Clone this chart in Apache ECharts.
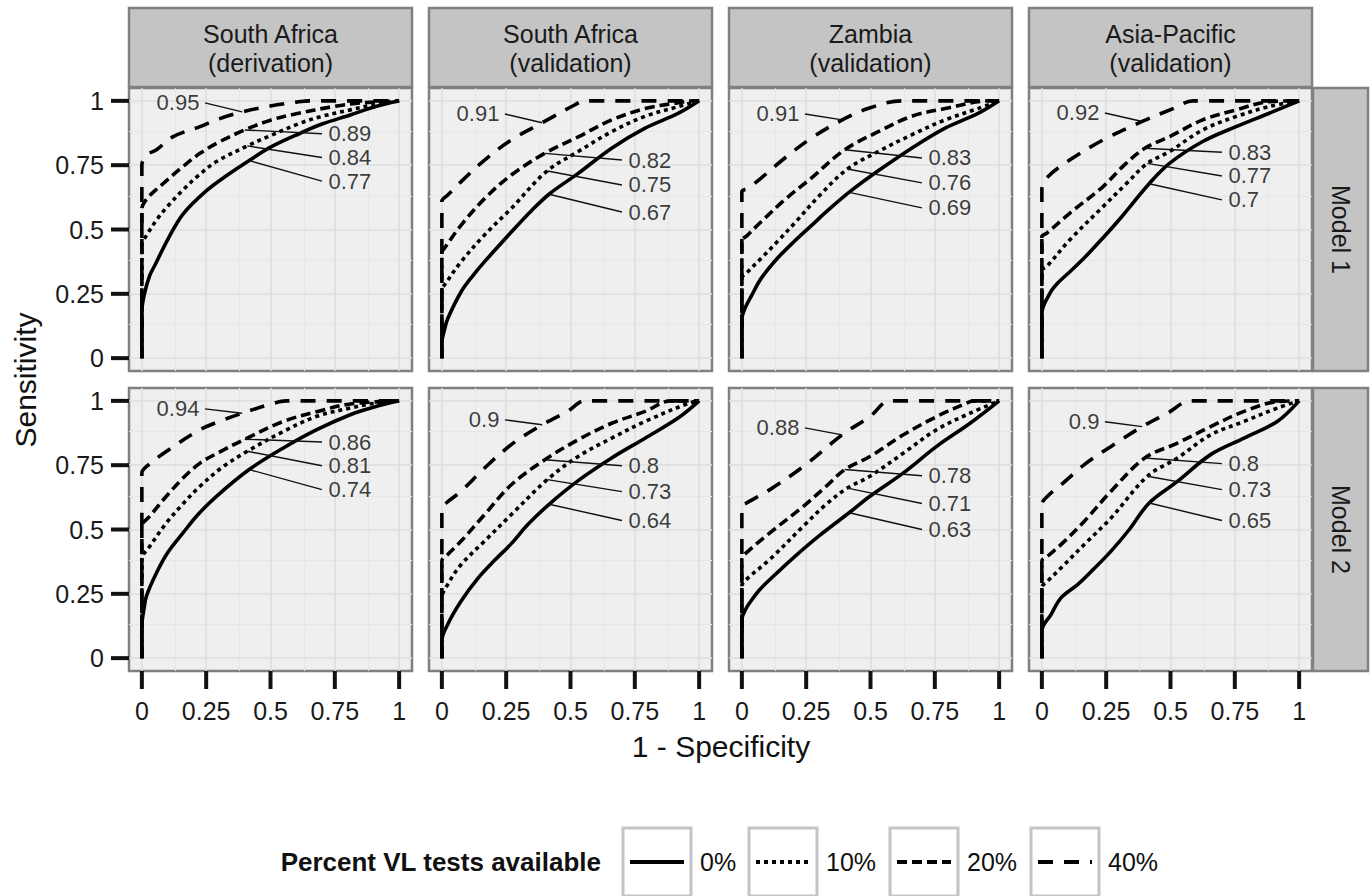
<!DOCTYPE html>
<html><head><meta charset="utf-8">
<script src="https://cdn.jsdelivr.net/npm/echarts@6/dist/echarts.min.js"></script>
<style>html,body{margin:0;padding:0;background:#fff}#c{width:1372px;height:896px}</style>
</head><body><div id="c"></div>
<script>
// ---------- DATA ----------
const regionLabels = ['South Africa\n(derivation)', 'South Africa\n(validation)', 'Zambia\n(validation)', 'Asia-Pacific\n(validation)'];
const modelLabels = ['Model 1', 'Model 2'];
const levels = ['0%', '10%', '20%', '40%'];
const tickValues = [0, 0.25, 0.5, 0.75, 1];
const minorValues = [0.125, 0.375, 0.625, 0.875];
const xTitle = '1 - Specificity';
const yTitle = 'Sensitivity';
const legendTitle = 'Percent VL tests available';

// AUC labels, per region, ordered as levels (0%,10%,20%,40%)
const auc_M1 = [[0.77, 0.84, 0.89, 0.95], [0.67, 0.75, 0.82, 0.91], [0.69, 0.76, 0.83, 0.91], [0.7, 0.77, 0.83, 0.92]];
const auc_M2 = [[0.74, 0.81, 0.86, 0.94], [0.64, 0.73, 0.8, 0.9], [0.63, 0.71, 0.78, 0.88], [0.65, 0.73, 0.8, 0.9]];

// ROC curves [1-specificity, sensitivity]
// Model 1 - South Africa (derivation)
const m1_saDer_0 = [[0,0],[0,0.18],[0.01,0.25],[0.03,0.32],[0.05,0.36],[0.1,0.46],[0.16,0.56],[0.25,0.65],[0.33,0.71],[0.42,0.77],[0.5,0.82],[0.615,0.874],[0.7,0.91],[0.81,0.945],[0.9,0.975],[1,1]];
const m1_saDer_10 = [[0,0],[0,0.44],[0.02,0.48],[0.057,0.537],[0.1,0.59],[0.16,0.654],[0.22,0.71],[0.29,0.764],[0.41,0.825],[0.5,0.865],[0.615,0.913],[0.7,0.94],[0.81,0.965],[0.9,0.985],[1,1]];
const m1_saDer_20 = [[0,0],[0,0.58],[0.02,0.62],[0.05,0.65],[0.096,0.69],[0.16,0.745],[0.226,0.796],[0.3,0.84],[0.4,0.887],[0.5,0.925],[0.6,0.95],[0.745,0.978],[0.85,0.992],[1,1]];
const m1_saDer_40 = [[0,0],[0,0.75],[0.02,0.79],[0.057,0.81],[0.12,0.86],[0.226,0.9],[0.3,0.93],[0.39,0.957],[0.5,0.98],[0.6,0.995],[0.65,1],[1,1]];
// Model 1 - South Africa (validation)
const m1_saVal_0 = [[0,0],[0,0.06],[0.01,0.11],[0.023,0.154],[0.075,0.258],[0.12,0.32],[0.166,0.375],[0.27,0.49],[0.35,0.575],[0.42,0.64],[0.53,0.718],[0.66,0.816],[0.79,0.894],[0.92,0.952],[1,1]];
const m1_saVal_10 = [[0,0],[0,0.27],[0.01,0.284],[0.075,0.375],[0.166,0.479],[0.27,0.582],[0.406,0.725],[0.53,0.803],[0.66,0.88],[0.79,0.94],[0.92,0.978],[1,1]];
const m1_saVal_20 = [[0,0],[0,0.41],[0.01,0.427],[0.075,0.517],[0.166,0.62],[0.27,0.712],[0.4,0.796],[0.53,0.86],[0.66,0.926],[0.79,0.97],[0.9,0.99],[0.98,1],[1,1]];
const m1_saVal_40 = [[0,0],[0,0.61],[0.023,0.634],[0.075,0.686],[0.166,0.77],[0.27,0.848],[0.39,0.915],[0.516,0.984],[0.555,1],[1,1]];
// Model 1 - Zambia (validation)
const m1_zam_0 = [[0,0],[0,0.15],[0.015,0.2],[0.036,0.24],[0.075,0.31],[0.14,0.39],[0.205,0.455],[0.27,0.515],[0.335,0.575],[0.42,0.647],[0.53,0.728],[0.66,0.816],[0.79,0.894],[0.92,0.952],[1,1]];
const m1_zam_10 = [[0,0],[0,0.31],[0.023,0.336],[0.075,0.388],[0.14,0.455],[0.205,0.525],[0.3,0.63],[0.41,0.735],[0.53,0.803],[0.66,0.868],[0.79,0.926],[0.92,0.971],[1,1]];
const m1_zam_20 = [[0,0],[0,0.453],[0.023,0.479],[0.075,0.53],[0.166,0.615],[0.27,0.7],[0.4,0.81],[0.53,0.88],[0.66,0.94],[0.79,0.97],[0.96,1],[1,1]];
const m1_zam_40 = [[0,0],[0,0.647],[0.023,0.66],[0.075,0.7],[0.166,0.777],[0.27,0.855],[0.39,0.926],[0.49,0.97],[0.62,1],[1,1]];
// Model 1 - Asia-Pacific (validation)
const m1_ap_0 = [[0,0],[0,0.174],[0.031,0.252],[0.06,0.29],[0.108,0.335],[0.17,0.395],[0.238,0.468],[0.302,0.54],[0.417,0.678],[0.496,0.757],[0.625,0.842],[0.755,0.9],[0.884,0.952],[1,1]];
const m1_ap_10 = [[0,0],[0,0.342],[0.018,0.355],[0.108,0.459],[0.238,0.589],[0.33,0.68],[0.41,0.757],[0.496,0.803],[0.625,0.887],[0.755,0.939],[0.884,0.978],[1,1]];
const m1_ap_20 = [[0,0],[0,0.472],[0.018,0.485],[0.108,0.563],[0.238,0.667],[0.32,0.75],[0.4,0.816],[0.496,0.861],[0.625,0.926],[0.755,0.965],[0.884,0.997],[1,1]];
const m1_ap_40 = [[0,0],[0,0.654],[0.018,0.7],[0.108,0.77],[0.238,0.848],[0.39,0.92],[0.51,0.97],[0.587,1],[1,1]];
// Model 2 - South Africa (derivation)
const m2_saDer_0 = [[0,0],[0,0.125],[0.008,0.19],[0.018,0.242],[0.057,0.332],[0.1,0.41],[0.16,0.487],[0.22,0.56],[0.29,0.629],[0.417,0.733],[0.55,0.817],[0.68,0.888],[0.81,0.946],[0.9,0.975],[1,1]];
const m2_saDer_10 = [[0,0],[0,0.384],[0.031,0.435],[0.096,0.526],[0.16,0.6],[0.226,0.668],[0.31,0.74],[0.41,0.804],[0.55,0.881],[0.68,0.94],[0.81,0.972],[0.9,0.99],[1,1]];
const m2_saDer_20 = [[0,0],[0,0.513],[0.031,0.552],[0.096,0.63],[0.16,0.7],[0.226,0.758],[0.3,0.8],[0.4,0.851],[0.55,0.92],[0.68,0.958],[0.81,0.988],[1,1]];
const m2_saDer_40 = [[0,0],[0,0.72],[0.018,0.745],[0.096,0.804],[0.226,0.888],[0.3,0.92],[0.39,0.952],[0.51,0.99],[0.56,1],[1,1]];
// Model 2 - South Africa (validation)
const m2_saVal_0 = [[0,0],[0,0.067],[0.023,0.132],[0.075,0.222],[0.14,0.31],[0.205,0.38],[0.27,0.445],[0.335,0.52],[0.419,0.6],[0.53,0.69],[0.66,0.778],[0.79,0.855],[0.918,0.933],[1,1]];
const m2_saVal_10 = [[0,0],[0,0.235],[0.023,0.287],[0.075,0.364],[0.166,0.455],[0.27,0.558],[0.41,0.694],[0.53,0.784],[0.66,0.855],[0.79,0.92],[0.957,0.99],[1,1]];
const m2_saVal_20 = [[0,0],[0,0.377],[0.023,0.403],[0.075,0.455],[0.166,0.558],[0.27,0.674],[0.4,0.771],[0.53,0.849],[0.66,0.913],[0.79,0.959],[0.89,1],[1,1]];
const m2_saVal_40 = [[0,0],[0,0.584],[0.017,0.603],[0.075,0.649],[0.166,0.739],[0.27,0.83],[0.39,0.907],[0.49,0.96],[0.555,1],[1,1]];
// Model 2 - Zambia (validation)
const m2_zam_0 = [[0,0],[0,0.151],[0.015,0.19],[0.031,0.216],[0.07,0.267],[0.135,0.33],[0.2,0.39],[0.3,0.475],[0.417,0.565],[0.498,0.629],[0.628,0.72],[0.757,0.823],[0.887,0.913],[1,1]];
const m2_zam_10 = [[0,0],[0,0.28],[0.018,0.306],[0.109,0.384],[0.239,0.513],[0.33,0.6],[0.41,0.661],[0.498,0.707],[0.628,0.797],[0.757,0.888],[0.887,0.952],[1,1]];
const m2_zam_20 = [[0,0],[0,0.384],[0.018,0.41],[0.109,0.487],[0.239,0.59],[0.33,0.67],[0.4,0.733],[0.498,0.784],[0.628,0.868],[0.757,0.939],[0.887,0.997],[0.9,1],[1,1]];
const m2_zam_40 = [[0,0],[0,0.59],[0.018,0.603],[0.109,0.655],[0.239,0.745],[0.39,0.868],[0.498,0.939],[0.576,1],[1,1]];
// Model 2 - Asia-Pacific (validation)
const m2_ap_0 = [[0,0],[0,0.106],[0.036,0.17],[0.075,0.235],[0.14,0.287],[0.2,0.345],[0.269,0.416],[0.34,0.5],[0.417,0.603],[0.527,0.687],[0.656,0.791],[0.786,0.855],[0.915,0.92],[1,1]];
const m2_ap_10 = [[0,0],[0,0.274],[0.023,0.3],[0.075,0.351],[0.165,0.442],[0.269,0.545],[0.41,0.707],[0.527,0.778],[0.656,0.868],[0.786,0.92],[0.915,0.972],[1,1]];
const m2_ap_20 = [[0,0],[0,0.377],[0.023,0.397],[0.075,0.442],[0.165,0.532],[0.269,0.649],[0.4,0.778],[0.527,0.836],[0.656,0.9],[0.786,0.959],[0.915,0.997],[1,1]];
const m2_ap_40 = [[0,0],[0,0.597],[0.023,0.63],[0.075,0.674],[0.165,0.752],[0.269,0.823],[0.39,0.9],[0.488,0.952],[0.579,1],[1,1]];

// ---------- LAYOUT (not data) ----------
const colLeft = [129, 429, 729, 1029];
const rowTop = [88, 388];
const panelSize = 283;
// label text vertical positions (data units), per panel, per level
const labelY_M1 = [[0.688, 0.780, 0.872, 0.992], [0.568, 0.673, 0.770, 0.949], [0.584, 0.681, 0.778, 0.949], [0.615, 0.708, 0.800, 0.953]];
const labelY_M2 = [[0.655, 0.748, 0.840, 0.969], [0.535, 0.647, 0.748, 0.926], [0.500, 0.601, 0.709, 0.895], [0.535, 0.655, 0.756, 0.919]];
const anchorX = [0.417, 0.41, 0.40, 0.39];
const dashTypes = ['solid', [4, 4], [10, 5], [15, 11]];
const FONT = "'Liberation Sans', Arial, Helvetica, sans-serif";

const curves = [
  [[m1_saDer_0, m1_saDer_10, m1_saDer_20, m1_saDer_40], [m1_saVal_0, m1_saVal_10, m1_saVal_20, m1_saVal_40], [m1_zam_0, m1_zam_10, m1_zam_20, m1_zam_40], [m1_ap_0, m1_ap_10, m1_ap_20, m1_ap_40]],
  [[m2_saDer_0, m2_saDer_10, m2_saDer_20, m2_saDer_40], [m2_saVal_0, m2_saVal_10, m2_saVal_20, m2_saVal_40], [m2_zam_0, m2_zam_10, m2_zam_20, m2_zam_40], [m2_ap_0, m2_ap_10, m2_ap_20, m2_ap_40]]
];
const aucs = [auc_M1, auc_M2];
const labelYs = [labelY_M1, labelY_M2];

function interp(curve, x) {
  for (let i = 1; i < curve.length; i++) {
    const [x0, y0] = curve[i - 1], [x1, y1] = curve[i];
    if (x1 > x0 && x >= x0 && x <= x1) return y0 + (y1 - y0) * (x - x0) / (x1 - x0);
  }
  return 1;
}

const grids = [], xAxes = [], yAxes = [], series = [], graphics = [];
for (let r = 0; r < 2; r++) {
  for (let c = 0; c < 4; c++) {
    const idx = r * 4 + c;
    grids.push({ left: colLeft[c], top: rowTop[r], width: panelSize, height: panelSize, show: true,
      backgroundColor: '#efefef', borderColor: '#808080', borderWidth: 2.5, containLabel: false });
    const showX = r === 1, showY = c === 0;
    xAxes.push({ type: 'value', gridIndex: idx, min: -0.05, max: 1.05,
      axisLine: { show: false }, splitLine: { show: false }, axisTick: { show: false },
      axisLabel: { show: showX, customValues: tickValues, margin: 27, fontSize: 25, color: '#1a1a1a', fontFamily: FONT, formatter: v => String(v) } });
    yAxes.push({ type: 'value', gridIndex: idx, min: -0.05, max: 1.05,
      axisLine: { show: false }, splitLine: { show: false }, axisTick: { show: false },
      axisLabel: { show: showY, customValues: tickValues, margin: 25, fontSize: 25, color: '#1a1a1a', fontFamily: FONT, formatter: v => String(v) } });
    // grid lines through the library scale
    series.push({ type: 'line', xAxisIndex: idx, yAxisIndex: idx, data: [], silent: true, z: 1,
      markLine: { silent: true, z: 1, symbol: ['none', 'none'], label: { show: false }, animation: false,
        lineStyle: { color: '#dedede', width: 1.6, type: 'solid' },
        data: [].concat(
          minorValues.map(v => ({ xAxis: v, lineStyle: { color: '#e7e7e7', width: 1, type: 'solid' } })),
          minorValues.map(v => ({ yAxis: v, lineStyle: { color: '#e7e7e7', width: 1, type: 'solid' } })),
          tickValues.map(v => ({ xAxis: v })),
          tickValues.map(v => ({ yAxis: v }))
        ) } });
    for (let k = 0; k < 4; k++) {
      const curve = curves[r][c][k];
      series.push({ type: 'line', name: levels[k], xAxisIndex: idx, yAxisIndex: idx, data: curve,
        showSymbol: false, symbol: 'none', z: 10, silent: true, smooth: 0.35,
        lineStyle: { color: '#000', width: 3.6, type: dashTypes[k], cap: 'butt', join: 'round' } });
      const ax = anchorX[k], ay = interp(curve, ax);
      const ly = labelYs[r][c][k];
      const left = k === 3;
      const ex = left ? 0.245 : 0.70;
      series.push({ type: 'line', xAxisIndex: idx, yAxisIndex: idx, data: [[ax, ay], [ex, ly]],
        showSymbol: false, symbol: 'none', z: 11, silent: true,
        lineStyle: { color: '#111', width: 1.4, type: 'solid' } });
      series.push({ type: 'scatter', xAxisIndex: idx, yAxisIndex: idx, data: [[ex, ly, String(aucs[r][c][k])]],
        symbolSize: 1, itemStyle: { color: 'rgba(0,0,0,0)' }, z: 12, silent: true,
        label: { show: true, position: left ? 'left' : 'right', distance: left ? 5 : 6, lineHeight: 19,
          formatter: p => p.value[2], fontSize: 22, color: '#0a0a0a', fontFamily: FONT } });
    }
  }
}

// strips
for (let c = 0; c < 4; c++) {
  graphics.push({ type: 'rect', shape: { x: colLeft[c], y: 8, width: panelSize, height: 79 },
    style: { fill: '#c4c4c4', stroke: '#808080', lineWidth: 2.5 }, z: 5 });
  graphics.push({ type: 'text', x: colLeft[c] + panelSize / 2, y: 48, z: 6,
    style: { text: regionLabels[c], fontSize: 25, lineHeight: 29, fontFamily: FONT, fill: '#1a1a1a', align: 'center', verticalAlign: 'middle' } });
}
for (let r = 0; r < 2; r++) {
  graphics.push({ type: 'rect', shape: { x: 1313, y: rowTop[r], width: 55, height: panelSize },
    style: { fill: '#c4c4c4', stroke: '#808080', lineWidth: 2.5 }, z: 5 });
  graphics.push({ type: 'text', x: 1341, y: rowTop[r] + panelSize / 2, rotation: -Math.PI / 2, z: 6,
    style: { text: modelLabels[r], fontSize: 25, fontFamily: FONT, fill: '#1a1a1a', align: 'center', verticalAlign: 'middle' } });
}
// axis titles
graphics.push({ type: 'text', x: 721, y: 746, z: 6,
  style: { text: xTitle, fontSize: 30, fontFamily: FONT, fill: '#111', align: 'center', verticalAlign: 'middle' } });
graphics.push({ type: 'text', x: 25, y: 380, rotation: Math.PI / 2, z: 6,
  style: { text: yTitle, fontSize: 30, fontFamily: FONT, fill: '#111', align: 'center', verticalAlign: 'middle' } });
// legend
graphics.push({ type: 'text', x: 601, y: 862, z: 6,
  style: { text: legendTitle, fontSize: 26, fontWeight: 'bold', fontFamily: FONT, fill: '#111', align: 'right', verticalAlign: 'middle' } });
const keyX = [623, 749, 890, 1031];
for (let k = 0; k < 4; k++) {
  graphics.push({ type: 'rect', shape: { x: keyX[k], y: 828, width: 68, height: 68 },
    style: { fill: '#ffffff', stroke: '#c4c4c4', lineWidth: 3 }, z: 5 });
  graphics.push({ type: 'line', shape: { x1: keyX[k] + 7, y1: 862, x2: keyX[k] + 61, y2: 862 },
    style: { stroke: '#000', lineWidth: 4, lineDash: dashTypes[k] === 'solid' ? null : dashTypes[k], lineCap: 'butt' }, z: 6 });
  graphics.push({ type: 'text', x: keyX[k] + 77, y: 862, z: 6,
    style: { text: levels[k], fontSize: 25, fontFamily: FONT, fill: '#111', align: 'left', verticalAlign: 'middle' } });
}

const chart = echarts.init(document.getElementById('c'), null, { renderer: 'svg', width: 1372, height: 896 });
chart.setOption({
  animation: false,
  backgroundColor: '#ffffff',
  textStyle: { fontFamily: FONT },
  grid: grids, xAxis: xAxes, yAxis: yAxes, series: series, graphic: graphics
});

// axis ticks placed through the axes' own scales
const tickLen = 18;
for (let r = 0; r < 2; r++) {
  for (let c = 0; c < 4; c++) {
    const idx = r * 4 + c;
    if (c === 0) {
      tickValues.forEach(v => {
        const p = chart.convertToPixel({ gridIndex: idx }, [0, v]);
        graphics.push({ type: 'line', z: 7, shape: { x1: colLeft[c] - tickLen, y1: p[1], x2: colLeft[c], y2: p[1] },
          style: { stroke: '#111', lineWidth: 4, lineCap: 'butt' } });
      });
    }
    if (r === 1) {
      tickValues.forEach(v => {
        const p = chart.convertToPixel({ gridIndex: idx }, [v, 0]);
        const yb = rowTop[r] + panelSize;
        graphics.push({ type: 'line', z: 7, shape: { x1: p[0], y1: yb, x2: p[0], y2: yb + tickLen },
          style: { stroke: '#111', lineWidth: 4, lineCap: 'butt' } });
      });
    }
  }
}
chart.setOption({ graphic: graphics });
</script></body></html>
